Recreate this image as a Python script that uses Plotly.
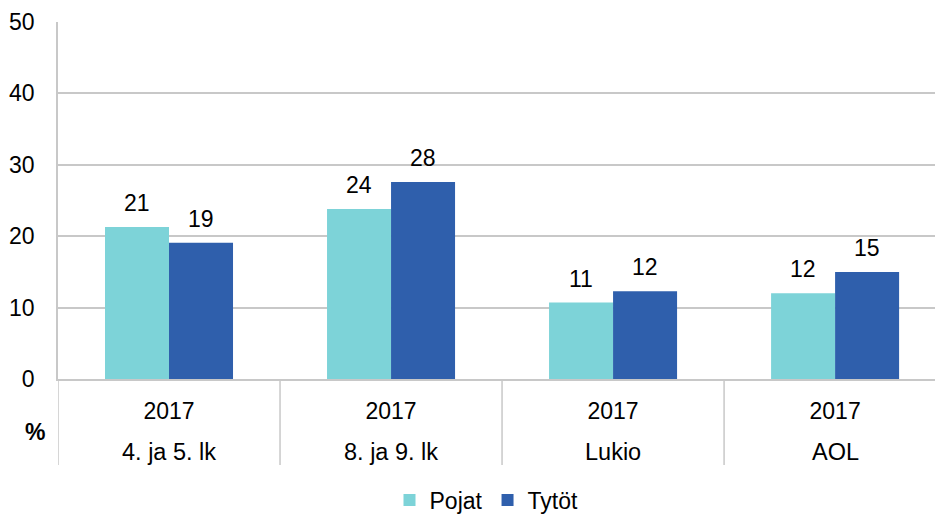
import plotly.graph_objects as go

years = ["2017", "2017", "2017", "2017"]
groups = ["4. ja 5. lk", "8. ja 9. lk", "Lukio", "AOL"]
pojat = [21.3, 23.8, 10.7, 12.0]
tytot = [19.1, 27.6, 12.3, 15.0]
pojat_labels = ["21", "24", "11", "12"]
tytot_labels = ["19", "28", "12", "15"]
y_ticks = [0, 10, 20, 30, 40, 50]

font = dict(family="Liberation Sans, Arial", size=23, color="#000000")
grid = "#C8C8C8"

fig = go.Figure()
fig.add_trace(go.Bar(x=groups, y=pojat, name="Pojat", marker_color="#7DD3D8",
                     marker_line_width=0))
fig.add_trace(go.Bar(x=groups, y=tytot, name="Tytöt", marker_color="#2F5FAC",
                     marker_line_width=0))

fig.update_layout(
    width=935, height=514,
    margin=dict(l=58, r=0, t=22, b=135, autoexpand=False),
    plot_bgcolor="white", paper_bgcolor="white",
    barmode="group", bargap=0.4234, bargroupgap=0,
    font=font,
    showlegend=True,
    legend=dict(orientation="h", x=0.4886, xanchor="center", y=-0.339, yanchor="middle",
                font=font),
    yaxis=dict(range=[0, 50], tickvals=y_ticks, showgrid=True, gridcolor=grid,
               gridwidth=1.5, zeroline=False, showline=True, linecolor=grid,
               linewidth=1.5, ticks="outside", ticklen=17, tickcolor="rgba(0,0,0,0)",
               tickfont=font, automargin=False),
    xaxis=dict(type="category", range=[-0.5, len(groups) - 0.55],
               tickvals=groups, ticktext=years,
               showline=True, linecolor=grid, linewidth=1.5,
               ticks="outside", ticklen=11, tickcolor="rgba(0,0,0,0)",
               tickfont=font, automargin=False),
)

# data labels above the bars
for g, v, t in zip(groups, pojat, pojat_labels):
    fig.add_annotation(text=t, x=g, y=v, xref="x", yref="y", xshift=-32, yshift=24,
                       xanchor="center", yanchor="middle", showarrow=False, font=font)
for g, v, t in zip(groups, tytot, tytot_labels):
    fig.add_annotation(text=t, x=g, y=v, xref="x", yref="y", xshift=32, yshift=24,
                       xanchor="center", yanchor="middle", showarrow=False, font=font)

# group (outer level) labels and dividers of the two-level category axis
for g in groups:
    fig.add_annotation(text=g, x=g, xref="x", y=-0.2045, yref="paper",
                       xanchor="center", yanchor="middle", showarrow=False,
                       font=dict(family="Liberation Sans, Arial", size=23.5, color="#000"))
for i in range(len(groups) + 1):
    fig.add_shape(type="line", xref="x", yref="paper", x0=i - 0.5, x1=i - 0.5,
                  y0=0, y1=-0.241, line=dict(color=grid, width=1.5))

fig.add_annotation(text="<b>%</b>", xref="paper", yref="paper",
                   x=-0.026, y=-0.148, xanchor="center", yanchor="middle",
                   showarrow=False, font=font)
fig.write_html("out.html", config={"displayModeBar": False},
               post_script="document.body.style.margin='0';")
